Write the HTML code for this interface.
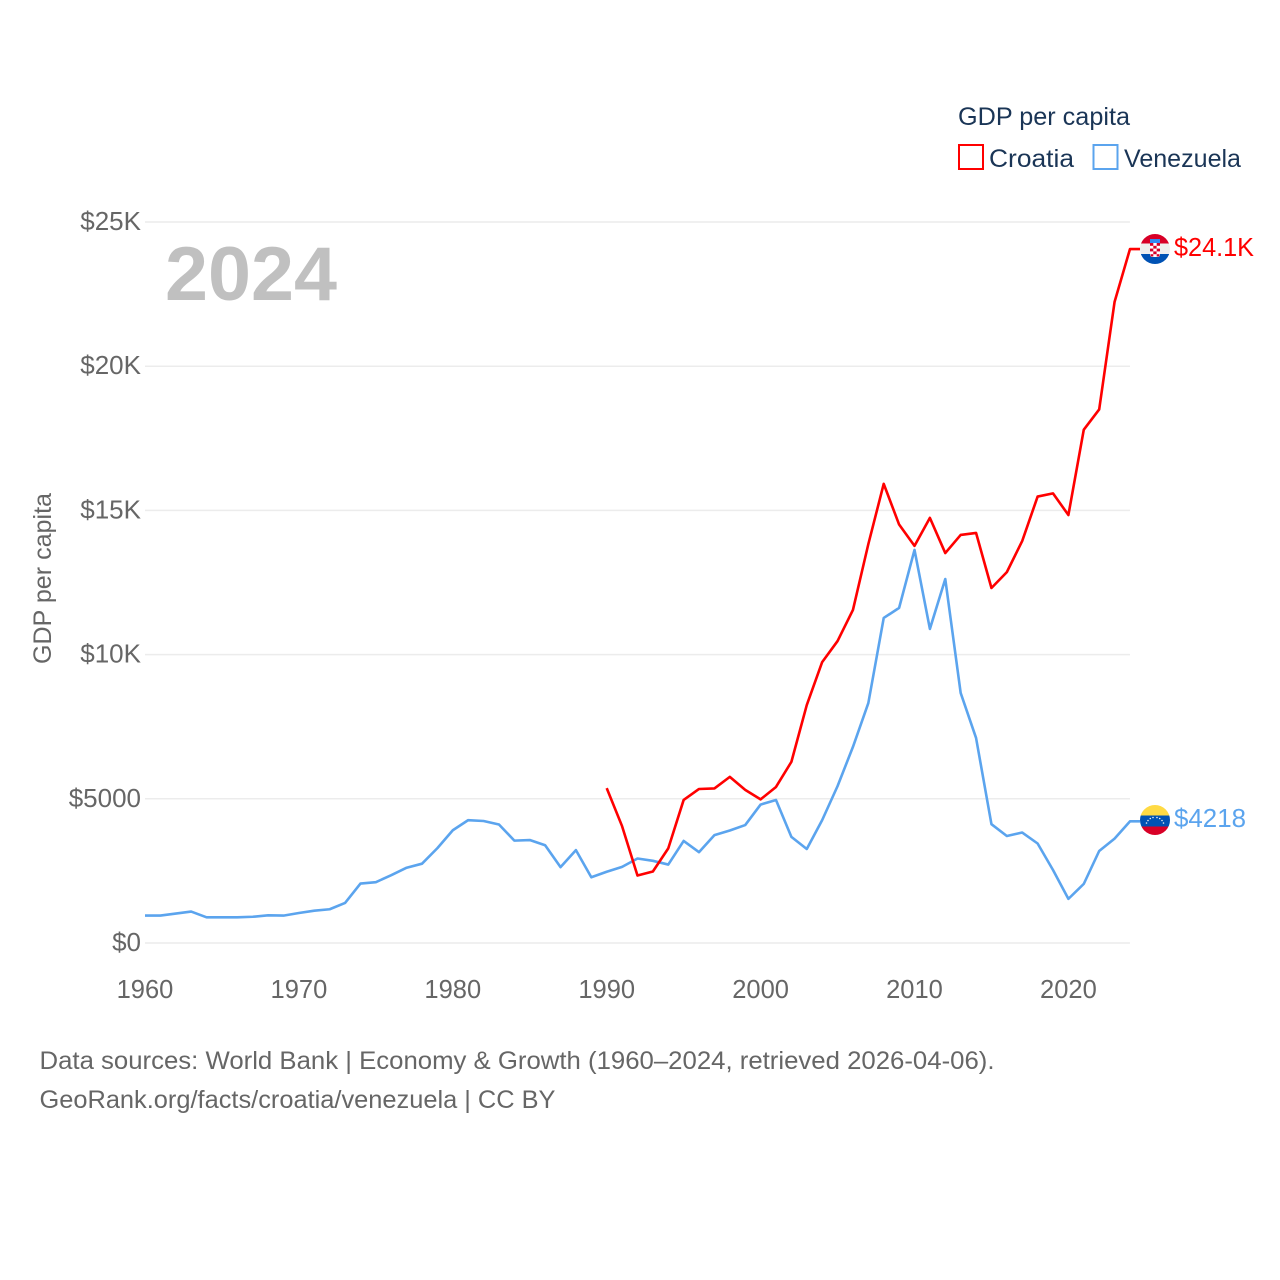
<!DOCTYPE html>
<html lang="en">
<head>
<meta charset="utf-8">
<title>GDP per capita: Croatia vs Venezuela</title>
<style>
html,body{margin:0;padding:0;background:#fff;}
svg{display:block;}
text{font-family:"Liberation Sans",sans-serif;}
</style>
</head>
<body>
<svg id="chart" xmlns="http://www.w3.org/2000/svg" width="1280" height="1280" viewBox="0 0 1280 1280">
  <rect x="0" y="0" width="1280" height="1280" fill="#ffffff"/>
  <defs>
    <clipPath id="flag-clip-hr"><circle cx="1155" cy="249" r="15"/></clipPath>
    <clipPath id="flag-clip-ve"><circle cx="1155" cy="820" r="15"/></clipPath>
  </defs>
  <g id="grid"></g>
  <g id="yticks"></g>
  <g id="xticks"></g>
  <text x="165" y="300" font-size="76" font-weight="700" fill="#c0c0c0" textLength="172" lengthAdjust="spacingAndGlyphs">2024</text>
  <text transform="translate(51,664) rotate(-90)" font-size="25" fill="#666666" textLength="171" lengthAdjust="spacingAndGlyphs">GDP per capita</text>

  <g id="series"></g>

  <g clip-path="url(#flag-clip-hr)">
    <rect x="1140" y="234" width="30" height="9.500" fill="#d80027"/>
    <rect x="1140" y="243.500" width="30" height="10.500" fill="#eeeeee"/>
    <rect x="1140" y="254" width="30" height="10" fill="#0052b4"/>
    <rect x="1150" y="239" width="10" height="4" fill="#338af3"/>
    <rect x="1150" y="243" width="10" height="14" rx="2" fill="#ffffff"/>
    <rect x="1150" y="243" width="3.300" height="2.800" fill="#d80027"/>
    <rect x="1156.700" y="243" width="3.300" height="2.800" fill="#d80027"/>
    <rect x="1153.300" y="245.800" width="3.300" height="2.800" fill="#d80027"/>
    <rect x="1150" y="248.600" width="3.300" height="2.800" fill="#d80027"/>
    <rect x="1156.700" y="248.600" width="3.300" height="2.800" fill="#d80027"/>
    <rect x="1153.300" y="251.400" width="3.300" height="2.800" fill="#d80027"/>
    <rect x="1150.500" y="254.200" width="2.800" height="2.300" fill="#d80027"/>
    <rect x="1156.700" y="254.200" width="2.800" height="2.300" fill="#d80027"/>
  </g>
  <text x="1174" y="256" font-size="26" fill="#ff0000" textLength="80" lengthAdjust="spacingAndGlyphs">$24.1K</text>

  <g clip-path="url(#flag-clip-ve)">
    <rect x="1140" y="805" width="30" height="10.500" fill="#ffda44"/>
    <rect x="1140" y="815.500" width="30" height="11" fill="#0052b4"/>
    <rect x="1140" y="826.500" width="30" height="8.500" fill="#d80027"/>
    <g fill="#eeeeee">
      <circle cx="1146.500" cy="823" r="0.800"/><circle cx="1148" cy="820.500" r="0.800"/>
      <circle cx="1150.300" cy="818.500" r="0.800"/><circle cx="1153" cy="817.500" r="0.800"/>
      <circle cx="1157" cy="817.500" r="0.800"/><circle cx="1159.700" cy="818.500" r="0.800"/>
      <circle cx="1162" cy="820.500" r="0.800"/><circle cx="1163.500" cy="823" r="0.800"/>
    </g>
  </g>
  <text x="1174" y="827" font-size="26" fill="#5ba4ee" textLength="72" lengthAdjust="spacingAndGlyphs">$4218</text>

  <g>
    <text x="958" y="125" font-size="25" fill="#1a3556" textLength="172" lengthAdjust="spacingAndGlyphs">GDP per capita</text>
    <g>
      <rect x="959" y="145" width="24" height="24" fill="none" stroke="#ff0000" stroke-width="2"/>
      <text x="989" y="167" font-size="25" fill="#1a3556" textLength="85" lengthAdjust="spacingAndGlyphs">Croatia</text>
    </g>
    <g>
      <rect x="1093.500" y="145" width="24" height="24" fill="none" stroke="#5ba4ee" stroke-width="2"/>
      <text x="1124" y="167" font-size="25" fill="#1a3556" textLength="117" lengthAdjust="spacingAndGlyphs">Venezuela</text>
    </g>
  </g>

  <text x="39.500" y="1069" font-size="25" fill="#666666" textLength="955" lengthAdjust="spacingAndGlyphs">Data sources: World Bank | Economy &amp; Growth (1960–2024, retrieved 2026-04-06).</text>
  <text x="39.500" y="1108" font-size="25" fill="#666666" textLength="516" lengthAdjust="spacingAndGlyphs">GeoRank.org/facts/croatia/venezuela | CC BY</text>
</svg>
<script>
const startYear = 1960;
const venezuelaValues = [950,950,1020,1090,890,890,890,910,960,950,1040,1120,1170,1390,2060,2110,2350,2610,2750,3290,3910,4260,4230,4110,3550,3570,3390,2630,3220,2280,2470,2640,2930,2850,2720,3540,3150,3740,3900,4090,4800,4960,3680,3260,4260,5440,6800,8320,11270,11620,13630,10890,12620,8670,7110,4120,3710,3830,3450,2530,1530,2050,3190,3620,4218];
const croatiaStartYear = 1990;
const croatiaValues = [5370,4050,2340,2480,3280,4960,5340,5360,5760,5310,4980,5410,6280,8250,9740,10470,11550,13830,15920,14510,13770,14740,13520,14150,14220,12310,12860,13940,15480,15590,14840,17800,18500,22230,24060];
const yTickValues = [0,5000,10000,15000,20000,25000];
const yTickLabels = ['$0','$5000','$10K','$15K','$20K','$25K'];
const xTickValues = [1960,1970,1980,1990,2000,2010,2020];

const NS = 'http://www.w3.org/2000/svg';
const xOf = function (year) { return 145 + (year - 1960) * 15.39; };
const yOf = function (value) { return 943 - value * 0.02884; };
const plotLeft = xOf(1960);
const plotRight = xOf(2024);

const grid = document.getElementById('grid');
const yticks = document.getElementById('yticks');
const xticks = document.getElementById('xticks');
const series = document.getElementById('series');

yTickValues.forEach(function (value, i) {
  const line = document.createElementNS(NS, 'line');
  
  
  line.setAttribute('x1', plotLeft);
  line.setAttribute('x2', plotRight);
  line.setAttribute('y1', yOf(value));
  line.setAttribute('y2', yOf(value));
  line.setAttribute('stroke', '#ececec');
  line.setAttribute('stroke-width', '1.5');
  grid.appendChild(line);

  const label = document.createElementNS(NS, 'text');
  
  
  label.setAttribute('x', 141);
  label.setAttribute('y', yOf(value) + 8);
  label.setAttribute('text-anchor', 'end');
  label.setAttribute('font-size', '26');
  label.setAttribute('fill', '#666666');
  label.textContent = yTickLabels[i];
  yticks.appendChild(label);
});

xTickValues.forEach(function (year) {
  const label = document.createElementNS(NS, 'text');
  
  
  label.setAttribute('x', xOf(year));
  label.setAttribute('y', 998);
  label.setAttribute('text-anchor', 'middle');
  label.setAttribute('font-size', '25.5');
  label.setAttribute('fill', '#666666');
  label.textContent = String(year);
  xticks.appendChild(label);
});

function pointsFor(firstYear, values) {
  const pts = values.map(function (value, i) {
    return xOf(firstYear + i).toFixed(2) + ',' + yOf(value).toFixed(2);
  });
  pts.push('1140,' + yOf(values[values.length - 1]).toFixed(2));
  return pts.join(' ');
}

const venezuelaLine = document.createElementNS(NS, 'polyline');


venezuelaLine.setAttribute('points', pointsFor(startYear, venezuelaValues));
venezuelaLine.setAttribute('fill', 'none');
venezuelaLine.setAttribute('stroke', '#5ba4ee');
venezuelaLine.setAttribute('stroke-width', '2.6');
venezuelaLine.setAttribute('stroke-linejoin', 'round');
series.appendChild(venezuelaLine);

const croatiaLine = document.createElementNS(NS, 'polyline');


croatiaLine.setAttribute('points', pointsFor(croatiaStartYear, croatiaValues));
croatiaLine.setAttribute('fill', 'none');
croatiaLine.setAttribute('stroke', '#ff0000');
croatiaLine.setAttribute('stroke-width', '2.6');
croatiaLine.setAttribute('stroke-linejoin', 'round');
series.appendChild(croatiaLine);
</script>
</body>
</html>
